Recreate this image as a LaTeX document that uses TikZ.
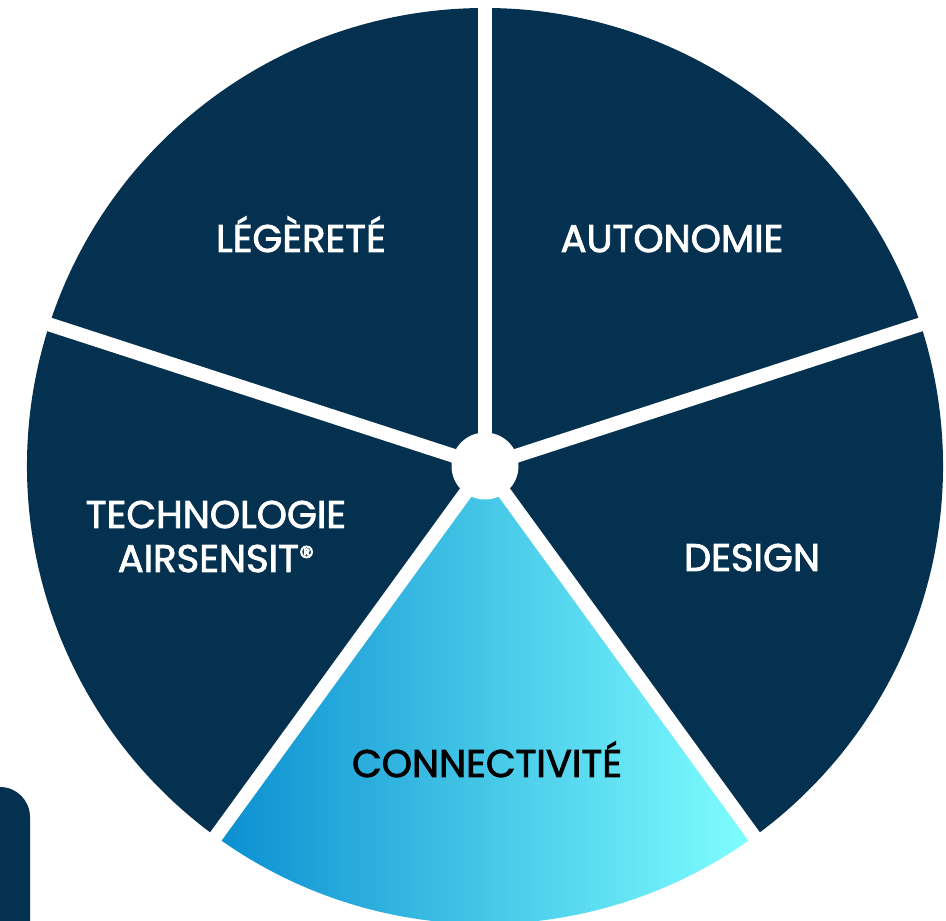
\documentclass[tikz,border=0pt]{standalone}
\usepackage{fontspec}
\setmainfont{Poppins}
\newfontfamily\labelfont{Poppins}[FakeBold=2.2]
\usetikzlibrary{calc}
\definecolor{navy}{HTML}{03314F}
\definecolor{cyanL}{HTML}{0A8ED0}
\definecolor{cyanR}{HTML}{80FFFF}
\tikzset{
  seg/.style={fill=navy},
  gap/.style={draw=white, line width=14pt},
  lbl/.style={text=white, anchor=base, inner sep=0pt, font=\labelfont\fontsize{38.5}{44}\selectfont},
  lbldark/.style={lbl, text=black}
}
\begin{document}
\begin{tikzpicture}[x=1pt,y=1pt]
\useasboundingbox (0,0) rectangle (946,921);
\begin{scope}
\clip (0,0) rectangle (946,921);
\coordinate (c) at (485,455);
\def\R{458}
% dark sectors
\foreach \a in {-54,18,90,162} {
  \fill[seg] (c) -- ++(\a:\R) arc[start angle=\a, end angle=\a+72, radius=\R] -- cycle;
}
% gradient sector
\shade[left color=cyanL, right color=cyanR] (c) -- ++(234:\R) arc[start angle=234, end angle=306, radius=\R] -- cycle;
% gaps
\foreach \a in {18,90,162,234,306} {
  \coordinate (e\a) at ($(c)+(\a:\R+20)$);
  \draw[gap] (c) -- (e\a);
}
\node[circle, fill=white, minimum size=67pt, inner sep=0pt] (hub) at (c) {};
% side tab
\fill[navy, rounded corners=30pt] (-40,-40) rectangle (30,134);
\end{scope}
\node[lbl] (leg) at (301,669) {LÉGÈRETÉ};
\node[lbl] (aut) at (672,669) {AUTONOMIE};
\node[lbl] (des) at (752,350) {DESIGN};
\node[lbl] (tech) at (216,393) {TECHNOLOGIE};
\node[lbl] (air) at (216,349) {AIRSENSIT\raisebox{5pt}{\fontsize{30}{30}\selectfont ®}};
\node[lbldark] (con) at (487,144) {CONNECTIVITÉ};
\end{tikzpicture}
\end{document}
